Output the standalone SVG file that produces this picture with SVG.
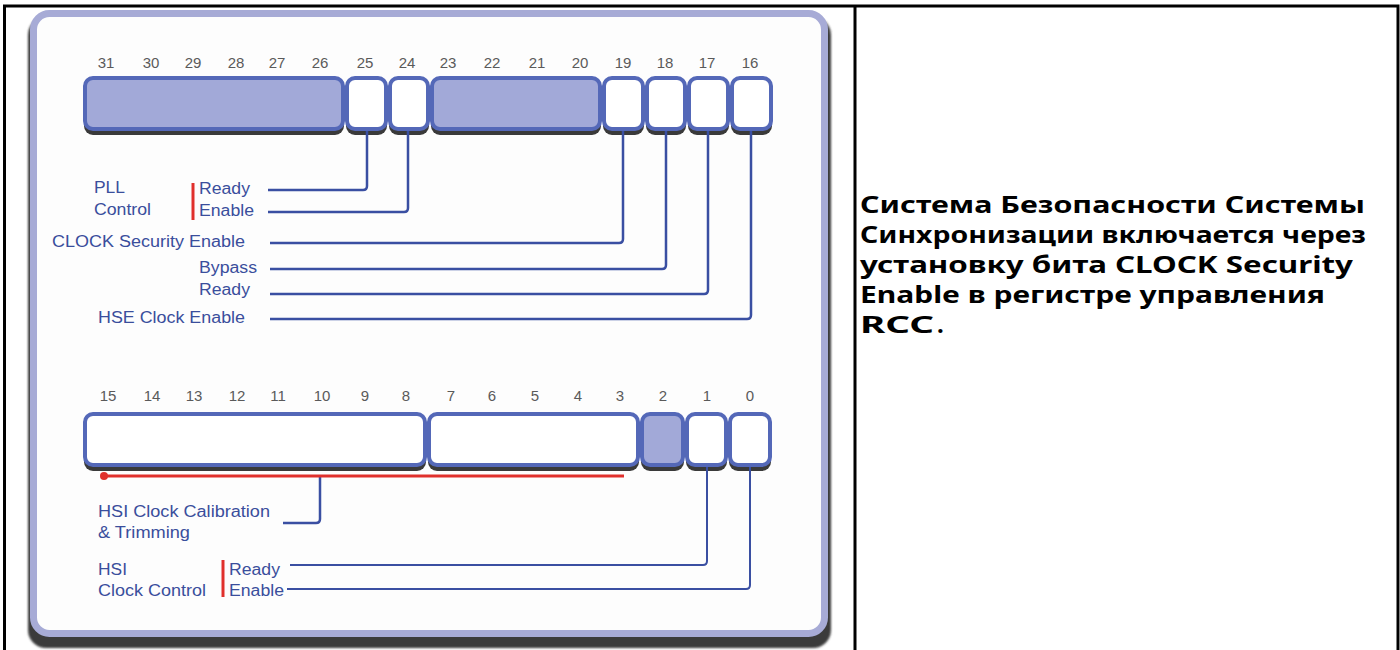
<svg xmlns="http://www.w3.org/2000/svg" width="1400" height="650" viewBox="0 0 1400 650">
<style>
.num{font-family:"Liberation Sans",Arial,sans-serif;font-size:15px;fill:#5a5a5a;text-anchor:middle}
.lbl{font-family:"Liberation Sans",Arial,sans-serif;font-size:16px;fill:#3a4e9c}
.cw{fill:#ffffff;stroke:#5468b8;stroke-width:4}
.cf{fill:#a2a9d8;stroke:#5468b8;stroke-width:4}
.sh{fill:#3a3a3a}
.con{fill:none;stroke:#3a4fa2;stroke-width:2.5;stroke-linejoin:round}
.con2{fill:none;stroke:#3a4fa2;stroke-width:2;stroke-linejoin:round}
.red{stroke:#e0302c;stroke-width:3;fill:none}
.rt{font-family:"Noto Sans","Open Sans",sans-serif;font-weight:bold;font-size:24px;fill:#000}
.frame{stroke:#000;stroke-width:3;fill:none}
</style>
<defs>
<filter id="blur" x="-5%" y="-5%" width="110%" height="110%"><feGaussianBlur stdDeviation="1"/></filter>
</defs>
<rect width="1400" height="650" fill="#ffffff"/>
<g id="frame">
<path class="frame" d="M4.5 650 V6 H1398 V650"/>
<line class="frame" x1="855" y1="6" x2="855" y2="650"/>
</g>
<g id="panel">
<rect x="28" y="17" width="803" height="631" rx="18" class="sh" filter="url(#blur)"/>
<rect x="33.5" y="13.5" width="791" height="620" rx="16" fill="#fdfdfd" stroke="#a7abd6" stroke-width="7"/>
</g>
<g id="row-high">
<g class="shadows">
<rect class="sh" x="84" y="82" width="260" height="53" rx="9"/>
<rect class="sh" x="346" y="82" width="41" height="53" rx="9"/>
<rect class="sh" x="389" y="82" width="40" height="53" rx="9"/>
<rect class="sh" x="431" y="82" width="170" height="53" rx="9"/>
<rect class="sh" x="603" y="82" width="41" height="53" rx="9"/>
<rect class="sh" x="646" y="82" width="40" height="53" rx="9"/>
<rect class="sh" x="688" y="82" width="41" height="53" rx="9"/>
<rect class="sh" x="731" y="82" width="41" height="53" rx="9"/>
</g>
<rect id="b31-26" class="cf" x="85" y="78" width="258" height="51" rx="8"/>
<rect id="b25" class="cw" x="347" y="78" width="39" height="51" rx="8"/>
<rect id="b24" class="cw" x="390" y="78" width="38" height="51" rx="8"/>
<rect id="b23-20" class="cf" x="432" y="78" width="168" height="51" rx="8"/>
<rect id="b19" class="cw" x="604" y="78" width="39" height="51" rx="8"/>
<rect id="b18" class="cw" x="647" y="78" width="38" height="51" rx="8"/>
<rect id="b17" class="cw" x="689" y="78" width="39" height="51" rx="8"/>
<rect id="b16" class="cw" x="732" y="78" width="39" height="51" rx="8"/>
<text class="num" x="106" y="68">31</text>
<text class="num" x="151" y="68">30</text>
<text class="num" x="193" y="68">29</text>
<text class="num" x="236" y="68">28</text>
<text class="num" x="277" y="68">27</text>
<text class="num" x="320" y="68">26</text>
<text class="num" x="365" y="68">25</text>
<text class="num" x="407" y="68">24</text>
<text class="num" x="448" y="68">23</text>
<text class="num" x="492" y="68">22</text>
<text class="num" x="537" y="68">21</text>
<text class="num" x="580" y="68">20</text>
<text class="num" x="623" y="68">19</text>
<text class="num" x="665" y="68">18</text>
<text class="num" x="707" y="68">17</text>
<text class="num" x="750" y="68">16</text>
</g>
<g id="row-low">
<g class="shadows">
<rect class="sh" x="84" y="418" width="342" height="53" rx="9"/>
<rect class="sh" x="428" y="418" width="211" height="53" rx="9"/>
<rect class="sh" x="641" y="418" width="43" height="53" rx="9"/>
<rect class="sh" x="686" y="418" width="41" height="53" rx="9"/>
<rect class="sh" x="729" y="418" width="42" height="53" rx="9"/>
</g>
<rect id="b15-8" class="cw" x="85" y="414" width="340" height="51" rx="8"/>
<rect id="b7-3" class="cw" x="429" y="414" width="209" height="51" rx="8"/>
<rect id="b2" class="cf" x="642" y="414" width="41" height="51" rx="8"/>
<rect id="b1" class="cw" x="687" y="414" width="39" height="51" rx="8"/>
<rect id="b0" class="cw" x="730" y="414" width="40" height="51" rx="8"/>
<text class="num" x="108" y="401">15</text>
<text class="num" x="152" y="401">14</text>
<text class="num" x="194" y="401">13</text>
<text class="num" x="237" y="401">12</text>
<text class="num" x="278" y="401">11</text>
<text class="num" x="322" y="401">10</text>
<text class="num" x="365" y="401">9</text>
<text class="num" x="406" y="401">8</text>
<text class="num" x="451" y="401">7</text>
<text class="num" x="492" y="401">6</text>
<text class="num" x="535" y="401">5</text>
<text class="num" x="578" y="401">4</text>
<text class="num" x="620" y="401">3</text>
<text class="num" x="663" y="401">2</text>
<text class="num" x="707" y="401">1</text>
<text class="num" x="750" y="401">0</text>
</g>
<g id="connectors">
<path class="con" d="M268 190 H363 Q367 190 367 186 V131"/>
<path class="con" d="M268 212 H404 Q408 212 408 208 V131"/>
<path class="con" d="M270 243 H619 Q623 243 623 239 V131"/>
<path class="con" d="M270 269 H662 Q666 269 666 265 V131"/>
<path class="con" d="M270 294 H704 Q708 294 708 290 V131"/>
<path class="con" d="M270 319 H747 Q751 319 751 315 V131"/>
<path class="con" d="M283 523 H316 Q320 523 320 519 V476"/>
<path class="con2" d="M290 565 H703 Q707 565 707 561 V467"/>
<path class="con2" d="M287 589 H746 Q750 589 750 585 V467"/>
<line class="red" x1="104" y1="476" x2="624" y2="476" stroke-width="2.5"/>
<circle cx="104" cy="476" r="4" fill="#e0302c"/>
<line class="red" x1="193" y1="183" x2="193" y2="220"/>
<line class="red" x1="223" y1="560" x2="223" y2="597"/>
</g>
<g id="labels-high">
<text class="lbl" x="94" y="193" textLength="31" lengthAdjust="spacingAndGlyphs">PLL</text>
<text class="lbl" x="94" y="215" textLength="57" lengthAdjust="spacingAndGlyphs">Control</text>
<text class="lbl" x="199" y="194" textLength="51" lengthAdjust="spacingAndGlyphs">Ready</text>
<text class="lbl" x="199" y="216" textLength="55" lengthAdjust="spacingAndGlyphs">Enable</text>
<text class="lbl" x="52" y="247" textLength="193" lengthAdjust="spacingAndGlyphs">CLOCK Security Enable</text>
<text class="lbl" x="199" y="273" textLength="58" lengthAdjust="spacingAndGlyphs">Bypass</text>
<text class="lbl" x="199" y="295" textLength="51" lengthAdjust="spacingAndGlyphs">Ready</text>
<text class="lbl" x="98" y="323" textLength="147" lengthAdjust="spacingAndGlyphs">HSE Clock Enable</text>
</g>
<g id="labels-low">
<text class="lbl" x="98" y="517" textLength="172" lengthAdjust="spacingAndGlyphs">HSI Clock Calibration</text>
<text class="lbl" x="98" y="538" textLength="92" lengthAdjust="spacingAndGlyphs">&amp; Trimming</text>
<text class="lbl" x="98" y="575" textLength="29" lengthAdjust="spacingAndGlyphs">HSI</text>
<text class="lbl" x="98" y="596" textLength="108" lengthAdjust="spacingAndGlyphs">Clock Control</text>
<text class="lbl" x="229" y="575" textLength="51" lengthAdjust="spacingAndGlyphs">Ready</text>
<text class="lbl" x="229" y="596" textLength="55" lengthAdjust="spacingAndGlyphs">Enable</text>
</g>
<g id="description">
<text class="rt" x="860" y="213" textLength="505" lengthAdjust="spacingAndGlyphs">Система Безопасности Системы</text>
<text class="rt" x="860" y="243" textLength="506" lengthAdjust="spacingAndGlyphs">Синхронизации включается через</text>
<text class="rt" x="860" y="273" textLength="493" lengthAdjust="spacingAndGlyphs">установку бита CLOCK Security</text>
<text class="rt" x="860" y="303" textLength="465" lengthAdjust="spacingAndGlyphs">Enable в регистре управления</text>
<text class="rt" x="860" y="333" textLength="74" lengthAdjust="spacingAndGlyphs">RCC</text>
<text class="rt" x="937" y="333" font-weight="normal">.</text>
</g>
</svg>
